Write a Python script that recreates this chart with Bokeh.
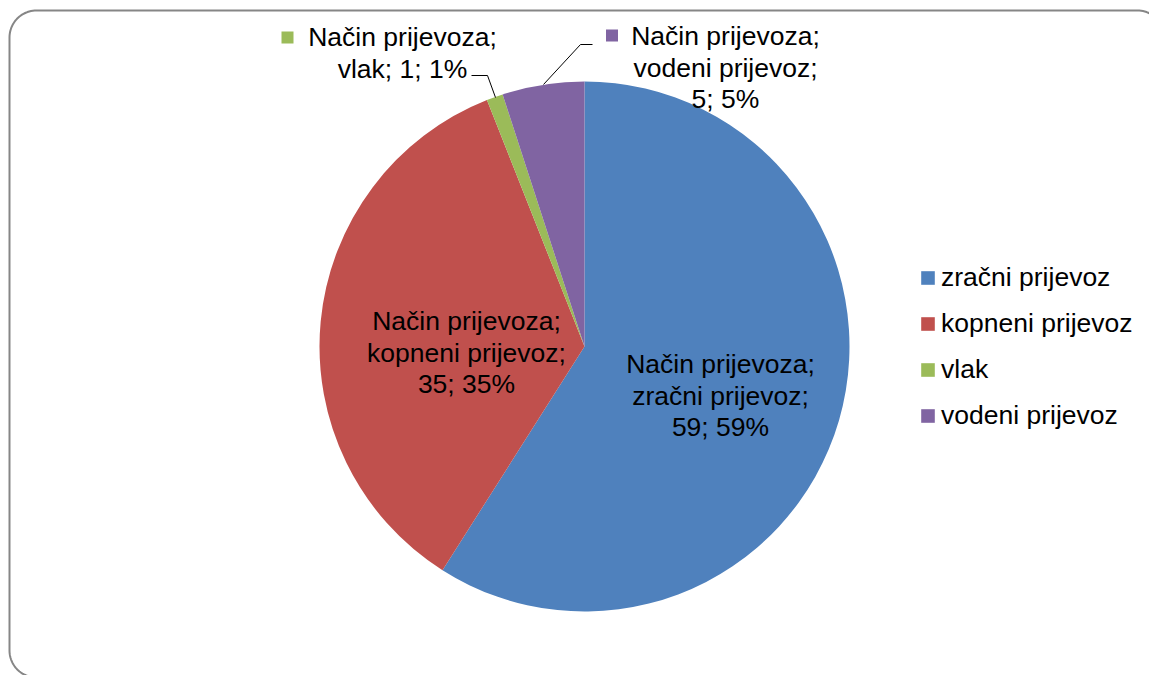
import numpy as np
from bokeh.plotting import figure
from bokeh.models import Range1d, Legend, LegendItem, ColumnDataSource
from bokeh.core.properties import value
from bokeh.embed import file_html
from bokeh.resources import INLINE

# ---- data ----
series_name = "Način prijevoza"
categories = ["zračni prijevoz", "kopneni prijevoz", "vlak", "vodeni prijevoz"]
values = [59, 35, 1, 5]
percents = [59, 35, 1, 5]
colors = ["#4F81BD", "#C0504D", "#9BBB59", "#8064A2"]

# ---- layout ----
W, H = 1149, 675
FONT = "Liberation Sans"
FS = "26.5px"
PITCH = 31.5
def sy(y):
    return H - y  # page y -> data y

p = figure(width=W, height=H, x_range=Range1d(0, W), y_range=Range1d(0, H),
           output_backend="svg", toolbar_location=None, min_border=0)
p.axis.visible = False
p.grid.visible = False
p.outline_line_color = None

# rounded chart border (open path: bottom-left corner -> left -> top -> top-right corner)
L, T, R, B, rad = 9, 10, 1164, 677, 27
def arc(ccx, ccy, a0, a1):
    t = np.radians(np.linspace(a0, a1, 24))
    return ccx + rad * np.cos(t), ccy - rad * np.sin(t)
xs, ys = [], []
for ccx, ccy, a0, a1 in [(L + rad, B - rad, 270, 180), (L + rad, T + rad, 180, 90),
                         (R - rad, T + rad, 90, 0)]:
    ax, ay = arc(ccx, ccy, a0, a1)
    xs += list(ax); ys += list(ay)
p.line(xs, [sy(v) for v in ys], line_color="#868686", line_width=2)

# pie
total = sum(values)
cum = np.cumsum([0] + values)
starts = [np.pi / 2 - 2 * np.pi * cum[i + 1] / total for i in range(len(values))]
ends = [np.pi / 2 - 2 * np.pi * cum[i] / total for i in range(len(values))]
cx, cy, r = 584, sy(346), 265
src = ColumnDataSource(dict(start=starts, end=ends, color=colors, cat=categories))
wr = p.wedge(x=cx, y=cy, radius=r, start_angle="start", end_angle="end",
             fill_color="color", line_color=None, source=src)

# data labels (one text per line)
breaks = ["\n", "\n", " ", "\n"]
label_pos = [(720, 395), (466, 352), (402, 52.5), (725, 67)]
lx, ly, lt = [], [], []
for c, v, pc, b, (px, py) in zip(categories, values, percents, breaks, label_pos):
    lines = f"{series_name};\n{c};{b}{v}; {pc}%".split("\n")
    n = len(lines)
    for i, ln in enumerate(lines):
        lx.append(px)
        ly.append(sy(py + (i - (n - 1) / 2) * PITCH))
        lt.append(ln)
lsrc = ColumnDataSource(dict(x=lx, y=ly, text=lt))
p.text(x="x", y="y", text="text", source=lsrc, text_align="center", text_baseline="middle",
       text_font=value(FONT), text_font_size=FS, text_color="black")

# legend keys in the outside labels
key_pos = [(287, 37), (611.5, 35)]
p.scatter(x=[k[0] for k in key_pos], y=[sy(k[1]) for k in key_pos], marker="square", size=12,
          fill_color=[colors[2], colors[3]], line_color=None)

# leader lines
leaders = [[(471, 75), (487, 75), (495, 97)], [(592, 44), (580, 44), (543, 84)]]
p.multi_line(xs=[[q[0] for q in ld] for ld in leaders], ys=[[sy(q[1]) for q in ld] for ld in leaders],
             line_color="black", line_width=1)

# legend
items = [LegendItem(label=c, renderers=[wr], index=i) for i, c in enumerate(categories)]
legend = Legend(items=items, location=(919, 237), glyph_width=17, glyph_height=17,
                label_text_font_size=FS, label_text_font=FONT, label_text_color="black",
                label_standoff=5, label_height=46, spacing=0, padding=0, margin=0,
                border_line_color=None, background_fill_alpha=0)
p.add_layout(legend)

open("out.html", "w").write(file_html(p, INLINE))
